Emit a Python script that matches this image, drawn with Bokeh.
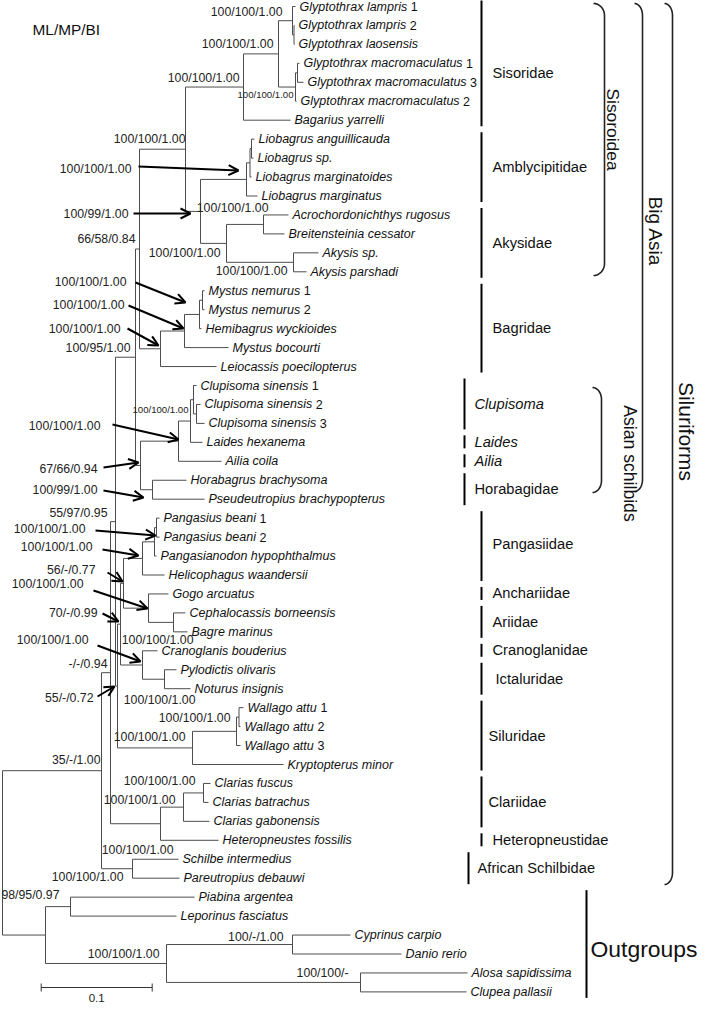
import math
from bokeh.plotting import figure
from bokeh.models import Range1d, Arrow, OpenHead
from bokeh.core.properties import value
from bokeh.embed import file_html
from bokeh.resources import INLINE

# ---------------- data ----------------
taxa = [
    "Glyptothrax lampris 1", "Glyptothrax lampris 2", "Glyptothrax laosensis",
    "Glyptothrax macromaculatus 1", "Glyptothrax macromaculatus 3", "Glyptothrax macromaculatus 2",
    "Bagarius yarrelli", "Liobagrus anguillicauda", "Liobagrus sp.", "Liobagrus marginatoides",
    "Liobagrus marginatus", "Acrochordonichthys rugosus", "Breitensteinia cessator", "Akysis sp.",
    "Akysis parshadi", "Mystus nemurus 1", "Mystus nemurus 2", "Hemibagrus wyckioides",
    "Mystus bocourti", "Leiocassis poecilopterus", "Clupisoma sinensis 1", "Clupisoma sinensis 2",
    "Clupisoma sinensis 3", "Laides hexanema", "Ailia coila", "Horabagrus brachysoma",
    "Pseudeutropius brachypopterus", "Pangasius beani 1", "Pangasius beani 2",
    "Pangasianodon hypophthalmus", "Helicophagus waandersii", "Gogo arcuatus",
    "Cephalocassis borneensis", "Bagre marinus", "Cranoglanis bouderius", "Pylodictis olivaris",
    "Noturus insignis", "Wallago attu 1", "Wallago attu 2", "Wallago attu 3", "Kryptopterus minor",
    "Clarias fuscus", "Clarias batrachus", "Clarias gabonensis", "Heteropneustes fossilis",
    "Schilbe intermedius", "Pareutropius debauwi", "Piabina argentea", "Leporinus fasciatus",
    "Cyprinus carpio", "Danio rerio", "Alosa sapidissima", "Clupea pallasii"]

# cumulative depth of each tip (scale: 111 units = 0.1 substitutions/site)
tip_depth = [295, 294, 294, 299, 303, 296, 290, 254, 253, 251, 257, 288, 284, 318, 306,
             204, 204, 201, 228, 216, 196, 200, 204, 202, 221, 186, 204, 159, 159, 156, 164,
             168, 185, 187, 157, 176, 190, 243, 240, 240, 283, 210, 208, 209, 218, 178, 179,
             194, 176, 350, 401, 467, 466]

# internal nodes: (name, depth, children) -- children listed before parents
clades = [
    ("lamp23", 293.5, ["Glyptothrax lampris 2", "Glyptothrax laosensis"]),
    ("lamp", 292, ["Glyptothrax lampris 1", "lamp23"]),
    ("mac13", 297, ["Glyptothrax macromaculatus 1", "Glyptothrax macromaculatus 3"]),
    ("mac", 295, ["mac13", "Glyptothrax macromaculatus 2"]),
    ("Glyptothrax", 278, ["lamp", "mac"]),
    ("Sisoridae", 243, ["Glyptothrax", "Bagarius yarrelli"]),
    ("lio12", 251, ["Liobagrus anguillicauda", "Liobagrus sp."]),
    ("lio123", 249.5, ["lio12", "Liobagrus marginatoides"]),
    ("Liobagrus", 246, ["lio123", "Liobagrus marginatus"]),
    ("acro", 263, ["Acrochordonichthys rugosus", "Breitensteinia cessator"]),
    ("Akysis", 293, ["Akysis sp.", "Akysis parshadi"]),
    ("Akysidae", 226, ["acro", "Akysis"]),
    ("amb_aky", 200, ["Liobagrus", "Akysidae"]),
    ("Sisoroidea", 185, ["Sisoridae", "amb_aky"]),
    ("mnem", 202, ["Mystus nemurus 1", "Mystus nemurus 2"]),
    ("mnem_hemi", 199, ["mnem", "Hemibagrus wyckioides"]),
    ("mystus", 184, ["mnem_hemi", "Mystus bocourti"]),
    ("Bagridae", 160, ["mystus", "Leiocassis poecilopterus"]),
    ("sis_bag", 139, ["Sisoroidea", "Bagridae"]),
    ("clup23", 196, ["Clupisoma sinensis 2", "Clupisoma sinensis 3"]),
    ("Clupisoma", 193, ["Clupisoma sinensis 1", "clup23"]),
    ("clup_laides", 190, ["Clupisoma", "Laides hexanema"]),
    ("Ailiidae", 178, ["clup_laides", "Ailia coila"]),
    ("Horabagridae", 152, ["Horabagrus brachysoma", "Pseudeutropius brachypopterus"]),
    ("asian_schilbids", 140, ["Ailiidae", "Horabagridae"]),
    ("big_asia", 135, ["sis_bag", "asian_schilbids"]),
    ("pbeani", 156, ["Pangasius beani 1", "Pangasius beani 2"]),
    ("pang_core", 154, ["pbeani", "Pangasianodon hypophthalmus"]),
    ("Pangasiidae", 142, ["pang_core", "Helicophagus waandersii"]),
    ("Ariidae", 173, ["Cephalocassis borneensis", "Bagre marinus"]),
    ("anch_ari", 148, ["Gogo arcuatus", "Ariidae"]),
    ("pang_ari", 123, ["Pangasiidae", "anch_ari"]),
    ("Ictaluridae", 164, ["Pylodictis olivaris", "Noturus insignis"]),
    ("cran_ict", 142, ["Cranoglanis bouderius", "Ictaluridae"]),
    ("n70", 120, ["pang_ari", "cran_ict"]),
    ("wa12", 238.5, ["Wallago attu 1", "Wallago attu 2"]),
    ("Wallago", 236, ["wa12", "Wallago attu 3"]),
    ("Siluridae", 192, ["Wallago", "Kryptopterus minor"]),
    ("n55b", 117, ["n70", "Siluridae"]),
    ("n55a", 115, ["big_asia", "n55b"]),
    ("clar12", 203, ["Clarias fuscus", "Clarias batrachus"]),
    ("Clarias", 183, ["clar12", "Clarias gabonensis"]),
    ("clar_het", 160, ["Clarias", "Heteropneustes fossilis"]),
    ("n094", 110, ["n55a", "clar_het"]),
    ("african_schilbidae", 132, ["Schilbe intermedius", "Pareutropius debauwi"]),
    ("Siluriformes", 101, ["n094", "african_schilbidae"]),
    ("Characiformes", 70, ["Piabina argentea", "Leporinus fasciatus"]),
    ("Cypriniformes", 292, ["Cyprinus carpio", "Danio rerio"]),
    ("Clupeiformes", 360, ["Alosa sapidissima", "Clupea pallasii"]),
    ("cyp_clu", 166, ["Cypriniformes", "Clupeiformes"]),
    ("outgroup", 45, ["Characiformes", "cyp_clu"]),
    ("root", 2, ["Siluriformes", "outgroup"]),
]

support_node = ["lamp", "Glyptothrax", "Sisoridae", "mac", "Sisoroidea", "Liobagrus", "amb_aky",
                "acro", "Akysidae", "Akysis", "sis_bag", "mnem", "mystus", "Bagridae", "big_asia",
                "Clupisoma", "Ailiidae", "asian_schilbids", "Horabagridae", "n55a", "pbeani",
                "Pangasiidae", "pang_ari", "anch_ari", "n70", "cran_ict", "Ariidae", "n094",
                "n55b", "Ictaluridae", "Wallago", "Siluridae", "Siluriformes", "clar12",
                "Clarias", "clar_het", "african_schilbidae", "outgroup", "cyp_clu",
                "Cypriniformes", "Clupeiformes"]
support_text = ["100/100/1.00", "100/100/1.00", "100/100/1.00", "100/100/1.00", "100/100/1.00",
                "100/100/1.00", "100/99/1.00", "100/100/1.00", "100/100/1.00", "100/100/1.00",
                "66/58/0.84", "100/100/1.00", "100/100/1.00", "100/100/1.00", "100/95/1.00",
                "100/100/1.00", "100/100/1.00", "67/66/0.94", "100/99/1.00", "55/97/0.95",
                "100/100/1.00", "100/100/1.00", "56/-/0.77", "100/100/1.00", "70/-/0.99",
                "100/100/1.00", "100/100/1.00", "-/-/0.94", "55/-/0.72", "100/100/1.00",
                "100/100/1.00", "100/100/1.00", "35/-/1.00", "100/100/1.00", "100/100/1.00",
                "100/100/1.00", "100/100/1.00", "98/95/0.97", "100/100/1.00", "100/-/1.00",
                "100/100/-"]

families = ["Sisoridae", "Amblycipitidae", "Akysidae", "Bagridae", "Clupisoma", "Laides", "Ailia",
            "Horabagidae", "Pangasiidae", "Anchariidae", "Ariidae", "Cranoglanidae", "Ictaluridae",
            "Siluridae", "Clariidae", "Heteropneustidae", "African Schilbidae", "Outgroups"]
family_first = [0, 7, 11, 15, 20, 23, 24, 25, 27, 31, 32, 34, 35, 37, 41, 44, 45, 47]
family_last = [6, 10, 14, 19, 22, 23, 24, 26, 30, 31, 33, 34, 36, 40, 43, 44, 46, 52]
family_italic = [False, False, False, False, True, True, True, False, False, False, False,
                 False, False, False, False, False, False, False]

groups = ["Sisoroidea", "Big Asia", "Siluriforms", "Asian schilbids"]

# ---------------- layout ----------------
ROW0, ROW_STEP = 6.0, 18.95
XS = 1.0          # data units per screen px
GAP = 4
FONT = value("Liberation Sans")
TIP_FS, SUP_FS, SMALL_FS, FAM_FS = 12.5, 12.3, 9.6, 14.7
LINE_COL = "#4d4d4d"

label_pos = {
    "lamp": (282, 11), "Glyptothrax": (273, 43), "Sisoridae": (239, 77), "mac": (293, 94),
    "Sisoroidea": (185, 138), "Liobagrus": (131, 168), "amb_aky": (128, 213), "acro": (268, 207),
    "Akysidae": (220, 252), "Akysis": (287, 270), "sis_bag": (135, 238), "mnem": (126, 281),
    "mystus": (124, 304), "Bagridae": (120, 328), "big_asia": (130, 347), "Clupisoma": (188, 409),
    "Ailiidae": (100, 425), "asian_schilbids": (97, 468), "Horabagridae": (97, 489),
    "n55a": (107, 512), "pbeani": (85, 528), "Pangasiidae": (92, 546), "pang_ari": (95, 569),
    "anch_ari": (83, 583), "n70": (97, 612), "cran_ict": (88, 639), "Ariidae": (193, 639),
    "n094": (107, 663), "n55b": (93, 697), "Ictaluridae": (195, 699), "Wallago": (230, 717),
    "Siluridae": (185, 736), "Siluriformes": (100, 759), "clar12": (195, 780),
    "Clarias": (175, 799), "clar_het": (173, 849), "african_schilbidae": (123, 876),
    "outgroup": (59, 894), "cyp_clu": (159, 953), "Cypriniformes": (283, 936),
    "Clupeiformes": (348, 972)}
small_labels = {"mac", "Clupisoma"}
arrow_pos = {
    "Liobagrus": (138, 166, 238, 170), "amb_aky": (133, 213, 190, 213),
    "mnem": (135, 282, 185, 302), "mystus": (128, 305, 183, 328), "Bagridae": (127, 328, 158, 345),
    "Ailiidae": (112, 424, 178, 439), "asian_schilbids": (103, 467, 138, 462),
    "Horabagridae": (103, 490, 143, 497), "pbeani": (95, 530, 155, 535),
    "Pangasiidae": (102, 549, 138, 555), "pang_ari": (107, 572, 122, 581),
    "anch_ari": (93, 590, 147, 608), "n70": (102, 613, 118, 621),
    "cran_ict": (97, 645, 140, 661), "n55b": (97, 696, 114, 686)}

fam_bar_x = [481, 481, 481, 481, 464, 464, 464, 464, 481, 481, 481, 481, 481, 481, 481, 481, 468, 586]
fam_lab_x = [492, 492, 492, 492, 474, 474, 474, 474, 492, 492, 492, 492, 495, 488, 488, 492, 477, 590]
fam_lab_dy = [10, 0, 0, 0, 0, 0, 0, 0, -2, 0, 0, 0, 0, 0, 0, 0, 0, 5]
fam_lab_fs = [FAM_FS] * 17 + [22.9]

# (hook x, vertical x, top, bottom, label x, label y, font size)
group_geom = [(593, 604, 3, 275, 612, 129, 17.4), (634, 642, 3, 491, 655, 231, 19.0),
              (664, 672, 3, 884, 686, 431, 21.0), (592, 601, 387, 492, 629, 463, 17.6)]

# Arial / Liberation Sans advance widths
W = {' ': 278, '.': 278, '/': 278, '-': 333}
for c in 'abdeghnopqu':
    W[c] = 556
W.update({'c': 500, 'f': 278, 'i': 222, 'j': 222, 'k': 500, 'l': 222, 'm': 833, 'r': 333,
          's': 500, 't': 278, 'v': 500, 'w': 722, 'x': 500, 'y': 500, 'z': 500})
W.update(dict(A=667, B=667, C=722, D=722, E=667, F=611, G=778, H=722, I=278, J=500, K=667,
              L=556, M=833, N=722, O=778, P=667, Q=778, R=722, S=667, T=611, U=722, V=667,
              W=944, X=667, Y=667, Z=611))
for d in '0123456789':
    W[d] = 556


def text_w(s, fs):
    return sum(W.get(c, 556) for c in s) * fs / 1000.0


# ---------------- compute tree ----------------
pos = {}
for i, (t, d) in enumerate(zip(taxa, tip_depth)):
    pos[t] = (d, ROW0 + ROW_STEP * i)
for name, depth, kids in clades:
    ys = [pos[k][1] for k in kids]
    pos[name] = (depth, (ys[0] + ys[-1]) / 2.0)

sx0, sy0, sx1, sy1 = [], [], [], []
for name, depth, kids in clades:
    ys = [pos[k][1] for k in kids]
    sx0.append(depth); sy0.append(min(ys)); sx1.append(depth); sy1.append(max(ys))
    for k in kids:
        sx0.append(depth); sy0.append(pos[k][1]); sx1.append(pos[k][0]); sy1.append(pos[k][1])

p = figure(width=700, height=1003, x_range=Range1d(0, 700), y_range=Range1d(1003, 0),
           output_backend="svg", toolbar_location=None, min_border=0,
           x_axis_location=None, y_axis_location=None)
p.grid.visible = False
p.outline_line_color = None
p.background_fill_color = "white"

p.segment(x0=sx0, y0=sy0, x1=sx1, y1=sy1, line_color=LINE_COL, line_width=1)

# tip labels
ix, iy, itxt, nx, ny, ntxt = [], [], [], [], [], []
for t in taxa:
    x, y = pos[t]
    head, _, tail = t.rpartition(' ')
    xs = x + GAP
    if tail.isdigit():
        ix.append(xs); iy.append(y); itxt.append(head)
        nx.append(xs + text_w(head + ' ', TIP_FS) * XS); ny.append(y); ntxt.append(tail)
    else:
        ix.append(xs); iy.append(y); itxt.append(t)
p.text(x=ix, y=iy, text=itxt, text_font=FONT, text_font_size=f"{TIP_FS}px",
       text_font_style="italic", text_baseline="middle", text_align="left", text_color="#111")
p.text(x=nx, y=ny, text=ntxt, text_font=FONT, text_font_size=f"{TIP_FS}px",
       text_baseline="middle", text_align="left", text_color="#111")

# support labels
for fs, sel in ((SUP_FS, False), (SMALL_FS, True)):
    lx, ly, lt = [], [], []
    for n, t in zip(support_node, support_text):
        if (n in small_labels) != sel:
            continue
        x, y = label_pos[n]
        lx.append(x); ly.append(y); lt.append(t)
    p.text(x=lx, y=ly, text=lt, text_font=FONT, text_font_size=f"{fs}px",
           text_baseline="middle", text_align="right", text_color="#222")

# arrows
for n in support_node:
    if n in arrow_pos:
        x0, y0, x1, y1 = arrow_pos[n]
        p.add_layout(Arrow(end=OpenHead(size=10, line_width=2, line_color="black"),
                           x_start=x0, y_start=y0, x_end=x1, y_end=y1,
                           line_width=2, line_color="black"))

# family bars and labels
bx0, by0, by1 = [], [], []
for i, f in enumerate(families):
    ytop = ROW0 + ROW_STEP * family_first[i] - 7
    ybot = ROW0 + ROW_STEP * family_last[i] + 6
    bx0.append(fam_bar_x[i]); by0.append(ytop); by1.append(ybot)
    p.text(x=[fam_lab_x[i]], y=[(ytop + ybot) / 2 + fam_lab_dy[i]], text=[f], text_font=FONT,
           text_font_size=f"{fam_lab_fs[i]}px",
           text_font_style="italic" if family_italic[i] else "normal",
           text_baseline="middle", text_align="left", text_color="#111")
p.segment(x0=bx0, y0=by0, x1=bx0, y1=by1, line_color="black", line_width=2)

# brackets for higher groups
for g, (xh, xv, yt, yb, tx, ty, fs) in zip(groups, group_geom):
    r = 12
    xs, ys = [], []
    for k in range(0, 11):
        a = math.pi / 2 * k / 10
        xs.append(xh + (xv - xh) * math.sin(a)); ys.append(yt + r * (1 - math.cos(a)))
    for k in range(10, -1, -1):
        a = math.pi / 2 * k / 10
        xs.append(xh + (xv - xh) * math.sin(a)); ys.append(yb - r * (1 - math.cos(a)))
    p.line(xs, ys, line_color="#222", line_width=1.6)
    p.text(x=[tx], y=[ty], text=[g], text_font=FONT, text_font_size=f"{fs}px",
           angle=-math.pi / 2, text_baseline="middle", text_align="center", text_color="#111")

# title
p.text(x=[32], y=[29], text=["ML/MP/BI"], text_font=FONT, text_font_size="15.4px",
       text_baseline="middle", text_align="left", text_color="#111")

# scale bar
scale_len = 111  # 0.1 substitutions/site
sbx, sby = 40.7, 987
p.segment(x0=[sbx, sbx, sbx + scale_len], y0=[sby, sby - 4, sby - 4],
          x1=[sbx + scale_len, sbx, sbx + scale_len], y1=[sby, sby + 4, sby + 4],
          line_color="#333", line_width=1)
p.text(x=[sbx + scale_len / 2], y=[997], text=["0.1"], text_font=FONT, text_font_size="11.5px",
       text_baseline="middle", text_align="center", text_color="#222")

open("out.html", "w").write(file_html(p, INLINE))
